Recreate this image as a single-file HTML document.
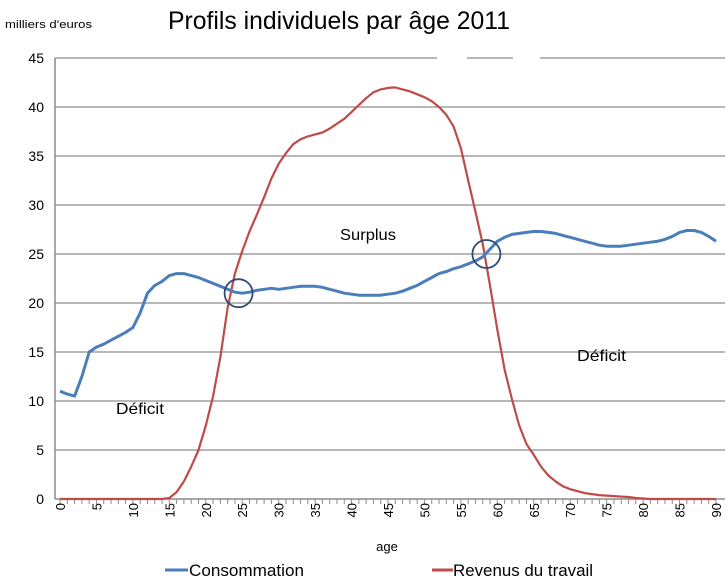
<!DOCTYPE html>
<html><head><meta charset="utf-8"><style>
html,body{margin:0;padding:0;background:#fff;}
svg{display:block;font-family:"Liberation Sans",sans-serif;}
</style></head><body>
<svg id="chart" width="727" height="581" viewBox="0 0 727 581">
<text x="168" y="29" font-size="25" textLength="342" lengthAdjust="spacingAndGlyphs">Profils individuels par âge 2011</text>
<text x="5" y="28" font-size="11" textLength="87" lengthAdjust="spacingAndGlyphs">milliers d'euros</text>
<g id="grid"></g>
<g id="axes"></g>
<g id="series"></g>
<text x="340" y="240" font-size="16" textLength="56" lengthAdjust="spacingAndGlyphs">Surplus</text>
<text x="116" y="414" font-size="16" textLength="48" lengthAdjust="spacingAndGlyphs">Déficit</text>
<text x="577" y="361" font-size="16" textLength="49" lengthAdjust="spacingAndGlyphs">Déficit</text>
<text x="387" y="551" font-size="13" text-anchor="middle">age</text>
<g>
<line x1="165" y1="570" x2="188" y2="570" stroke="#4a7ebb" stroke-width="3"/>
<text x="189" y="576" font-size="17" textLength="115" lengthAdjust="spacingAndGlyphs">Consommation</text>
<line x1="432" y1="570" x2="453" y2="570" stroke="#be4b48" stroke-width="3"/>
<text x="453" y="576" font-size="17" textLength="140" lengthAdjust="spacingAndGlyphs">Revenus du travail</text>
</g>
</svg>
<script>
const ages = Array.from({length:91},(_,i)=>i);
const consommation = [11,10.7,10.5,12.5,15,15.5,15.8,16.2,16.6,17,17.5,19,21,21.8,22.2,22.8,23,23,22.8,22.6,22.3,22,21.7,21.4,21.1,21,21.1,21.3,21.4,21.5,21.4,21.5,21.6,21.7,21.7,21.7,21.6,21.4,21.2,21,20.9,20.8,20.8,20.8,20.8,20.9,21,21.2,21.5,21.8,22.2,22.6,23,23.2,23.5,23.7,24,24.3,24.7,25.5,26.3,26.7,27,27.1,27.2,27.3,27.3,27.2,27.1,26.9,26.7,26.5,26.3,26.1,25.9,25.8,25.8,25.8,25.9,26,26.1,26.2,26.3,26.5,26.8,27.2,27.4,27.4,27.2,26.8,26.3];
const revenus = [0,0,0,0,0,0,0,0,0,0,0,0,0,0,0,0.1,0.7,1.8,3.3,5,7.5,10.5,14.5,19.5,23,25.3,27.3,29,30.8,32.7,34.2,35.3,36.2,36.7,37,37.2,37.4,37.8,38.3,38.8,39.5,40.2,40.9,41.5,41.8,41.95,42,41.8,41.6,41.3,41,40.6,40,39.2,38,35.8,32.5,29.3,26,21.8,17.3,13.2,10.2,7.5,5.6,4.5,3.3,2.4,1.8,1.3,1,0.8,0.6,0.5,0.4,0.35,0.3,0.25,0.2,0.1,0.05,0,0,0,0,0,0,0,0,0,0];
const yTicks = [0,5,10,15,20,25,30,35,40,45];
const xTickLabels = [0,5,10,15,20,25,30,35,40,45,50,55,60,65,70,75,80,85,90];
const circleAt = [[24.5,21],[58.5,25]];

const NS="http://www.w3.org/2000/svg";
const X=a=>60+a*(656/90);
const Y=v=>499-v*(441/45);
function mk(tag,attrs,parent){const e=document.createElementNS(NS,tag);for(const k in attrs)e.setAttribute(k,attrs[k]);parent.appendChild(e);return e;}
const grid=document.getElementById('grid'),axes=document.getElementById('axes'),series=document.getElementById('series');
yTicks.forEach(v=>{
  if(v>0){const l=mk('line',{x1:55,x2:725,y1:Y(v),y2:Y(v),stroke:'#8c8c8c','stroke-width':1.3},grid);
  
  }
  const t=mk('text',{x:44,y:Y(v)+5,'font-size':14,'text-anchor':'end'},axes);t.textContent=v;
  
  
});
mk('rect',{x:437,y:Y(45)-2,width:30,height:4,fill:'#fff'},grid);
mk('rect',{x:513,y:Y(45)-2,width:27,height:4,fill:'#fff'},grid);
const ya=mk('line',{x1:55,x2:55,y1:Y(45),y2:Y(0),stroke:'#8c8c8c','stroke-width':1.5},axes);


const xa=mk('line',{x1:55,x2:725,y1:Y(0),y2:Y(0),stroke:'#8c8c8c','stroke-width':1.5},axes);


ages.forEach(a=>{mk('line',{x1:X(a),x2:X(a),y1:Y(0),y2:Y(0)+5,stroke:'#8c8c8c','stroke-width':1},axes);});
xTickLabels.forEach(a=>{
  const t=mk('text',{x:0,y:0,'font-size':13,'text-anchor':'end',transform:`translate(${X(a)+5},503) rotate(-90)`},axes);
  t.textContent=a;
  
  
});
function path(vals,color,name){
  const d=vals.map((v,i)=>(i?'L':'M')+X(ages[i]).toFixed(1)+','+Y(v).toFixed(1)).join('');
  const p=mk('path',{d:d,fill:'none',stroke:color,'stroke-width':name==='consommation-line'?3:2.2,'stroke-linejoin':'round'},series);
  
  
}
path(revenus,'#be4b48','revenus-line');
path(consommation,'#4a7ebb','consommation-line');
circleAt.forEach((c,i)=>{
  const e=mk('ellipse',{cx:X(c[0]),cy:Y(c[1]),rx:14,ry:14,fill:'none',stroke:'#2f4a7a','stroke-width':1.8},series);
  
  
});
</script>
</body></html>
